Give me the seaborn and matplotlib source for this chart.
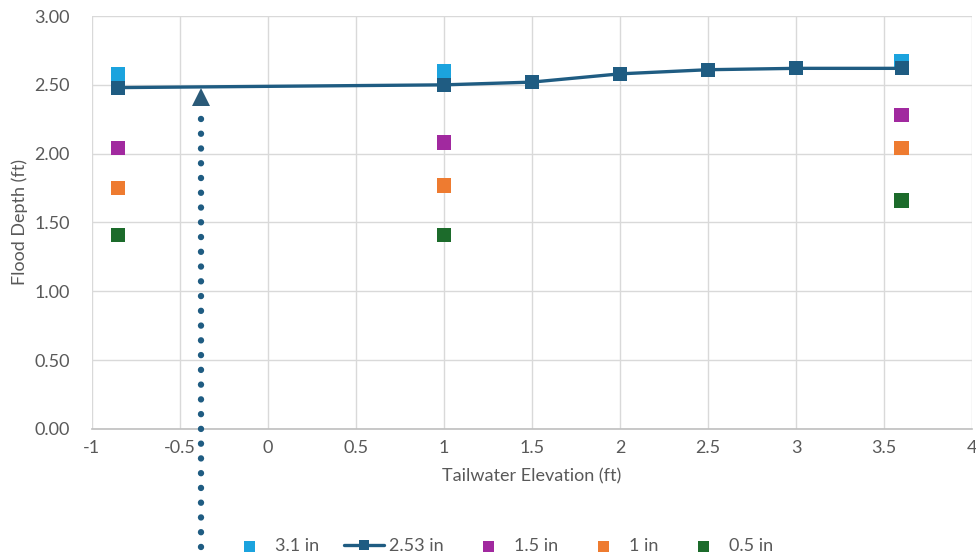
import matplotlib
matplotlib.use('Agg')
import matplotlib.pyplot as plt
import seaborn as sns

# Data
x_sparse = [-0.85, 1.0, 3.6]
depth_31 = [2.58, 2.60, 2.67]
depth_15 = [2.04, 2.08, 2.28]
depth_10 = [1.75, 1.77, 2.04]
depth_05 = [1.41, 1.41, 1.66]

x_line = [-0.85, 1.0, 1.5, 2.0, 2.5, 3.0, 3.6]
depth_253 = [2.48, 2.50, 2.52, 2.58, 2.61, 2.62, 2.62]

arrow_x = -0.38
arrow_top = 2.48
x_ticks = [-1, -0.5, 0, 0.5, 1, 1.5, 2, 2.5, 3, 3.5, 4]
x_tick_labels = ['-1', '-0.5', '0', '0.5', '1', '1.5', '2', '2.5', '3', '3.5', '4']
y_ticks = [0.0, 0.5, 1.0, 1.5, 2.0, 2.5, 3.0]

colors = {'3.1 in': '#1BA3DE', '2.53 in': '#1F5C82', '1.5 in': '#A1299F',
          '1 in': '#EE7B30', '0.5 in': '#1C6B2B'}

sns.set_style('whitegrid')
plt.rcParams['font.family'] = ['Lato', 'DejaVu Sans']

fig, ax = plt.subplots(figsize=(9.76, 5.54), dpi=100)
fig.subplots_adjust(left=0.094, right=0.996, top=0.971, bottom=0.226)

sns.scatterplot(x=x_sparse, y=depth_31, marker='s', s=110, color=colors['3.1 in'],
                edgecolor='none', label='3.1 in', ax=ax, zorder=3)
sns.lineplot(x=x_line, y=depth_253, marker='s', markersize=10, markeredgewidth=0,
             linewidth=2.4, color=colors['2.53 in'], label='2.53 in', ax=ax, zorder=4)
sns.scatterplot(x=x_sparse, y=depth_15, marker='s', s=110, color=colors['1.5 in'],
                edgecolor='none', label='1.5 in', ax=ax, zorder=3)
sns.scatterplot(x=x_sparse, y=depth_10, marker='s', s=110, color=colors['1 in'],
                edgecolor='none', label='1 in', ax=ax, zorder=3)
sns.scatterplot(x=x_sparse, y=depth_05, marker='s', s=110, color=colors['0.5 in'],
                edgecolor='none', label='0.5 in', ax=ax, zorder=3)

# dotted arrow pointing up to the curve
ax.plot([arrow_x, arrow_x], [-0.86, arrow_top - 0.15], color='#1F5C82',
        linestyle=(0, (0.01, 2.3)), linewidth=4.6, dash_capstyle='round',
        clip_on=False, zorder=5)
ax.plot([arrow_x], [arrow_top - 0.065], marker='^', markersize=13,
        color='#2B5A78', markeredgewidth=0, clip_on=False, zorder=5)

ax.set_xlim(-1, 4)
ax.set_ylim(0, 3)
ax.set_xticks(x_ticks)
ax.set_xticklabels(x_tick_labels)
ax.set_yticks(y_ticks)
ax.set_yticklabels([f'{v:.2f}' for v in y_ticks])
ax.tick_params(axis='both', colors='#595959', labelsize=13, length=0)
ax.tick_params(axis='y', pad=16)
ax.tick_params(axis='x', pad=8)
ax.grid(color='#D9D9D9', linewidth=1)

for side in ['top', 'right', 'left']:
    ax.spines[side].set_visible(False)
ax.spines['bottom'].set_color('#BFBFBF')
ax.spines['bottom'].set_linewidth(1.2)

ax.set_xlabel('Tailwater Elevation (ft)', fontsize=13, color='#595959', labelpad=9)
ax.set_ylabel('Flood Depth (ft)', fontsize=13, color='#595959', labelpad=4)

leg = ax.legend(loc='center', bbox_to_anchor=(0.465, -0.285), ncol=5, frameon=False,
                fontsize=13, markerscale=0.75, columnspacing=1.4, handletextpad=0.3,
                handlelength=2.2)
for t in leg.get_texts():
    t.set_color('#595959')

plt.savefig('out.png', dpi=100)
plt.close()
